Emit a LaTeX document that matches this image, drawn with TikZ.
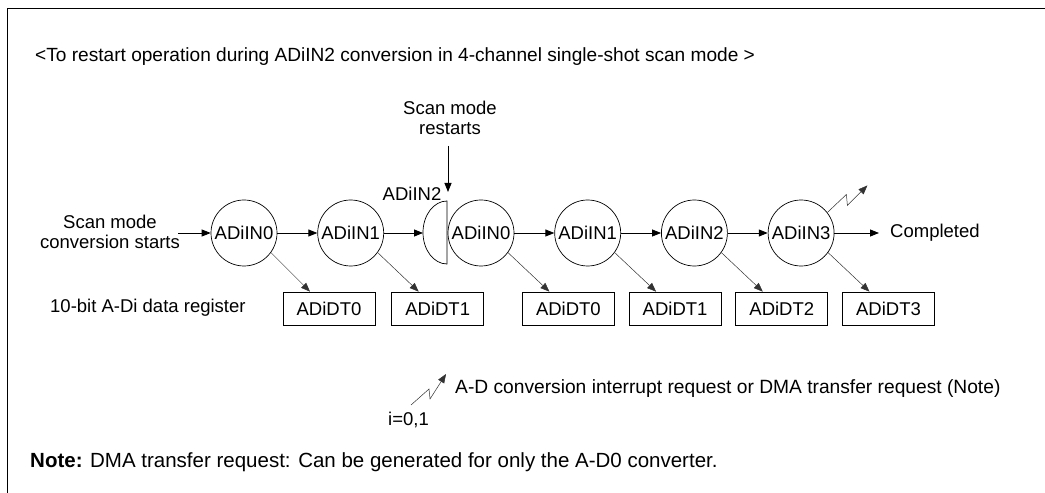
\documentclass[tikz,border=0pt]{standalone}
\usepackage{fontspec}
\setmainfont{Liberation Sans}
\usepackage{tikz}
\usetikzlibrary{positioning,arrows.meta}
\definecolor{gristexto}{RGB}{50,50,50}
\newcommand{\letra}{\fontsize{18.5}{20.5}\selectfont}

\begin{document}
\begin{tikzpicture}[x=1pt, y=1pt,
  canal/.style={draw, circle, minimum size=66pt, inner sep=0pt, line width=0.7pt,
               font=\letra},
  registro/.style={draw, minimum width=92pt, minimum height=33pt, inner sep=0pt,
               line width=0.7pt, font=\letra},
  texto/.style={inner sep=0pt, align=center, font=\letra},
  flecha/.style={-{Triangle[length=9pt,width=7pt]}, line width=0.8pt},
  flechafina/.style={-{Triangle[length=9pt,width=7pt]}, line width=0.5pt, color=gristexto}]
  \useasboundingbox (0,0) rectangle (1045,493);
  \draw[line width=1pt] (7,0) -- (7,484) -- (1045,484);
  \node[texto, anchor=west, font=\fontsize{19.1}{21}\selectfont] (titulo) at (35,436)
       {<To restart operation during ADiIN2 conversion in 4-channel single-shot scan mode >};
  % fila de canales
  \node[canal] (c1) at (244,260) {ADiIN0};
  \node[canal, right=40pt of c1] (c2) {ADiIN1};
  \node[canal] (c3) at (481,260) {ADiIN0};
  \node[canal, right=40pt of c3] (c4) {ADiIN1};
  \node[canal, right=40pt of c4] (c5) {ADiIN2};
  \node[canal, right=40pt of c5] (c6) {ADiIN3};
  % canal cortado
  \draw[line width=0.7pt] (447,292) arc[start angle=90, end angle=270, x radius=24, y radius=31.5]
       -- cycle;
  \coordinate (corte) at (423,260);
  \node[texto] (cortado) at (412,299) {ADiIN2};
  \node[texto] (reinicio) at (450,375) {Scan mode\\restarts};
  \coordinate (arriba) at (448,347);
  \coordinate (caida) at (448,301);
  % registros
  \node[registro] (r1) at (329,184.5) {ADiDT0};
  \node[registro, right=16pt of r1] (r2) {ADiDT1};
  \node[registro, right=38pt of r2] (r3) {ADiDT0};
  \node[registro, right=14pt of r3] (r4) {ADiDT1};
  \node[registro, right=14pt of r4] (r5) {ADiDT2};
  \node[registro, right=14pt of r5] (r6) {ADiDT3};
  \node[texto] (inicio) at (110,261) {Scan mode\\conversion starts};
  \coordinate (entrada) at (178,260);
  \node[texto, anchor=west, inner xsep=11pt] (fin) at (879,260) {Completed};
  \node[texto, anchor=west] (datos) at (50,185) {10-bit A-Di data register};
  % conexiones
  \draw[flecha] (entrada) -- (c1);
  \draw[flecha] (c1) -- (c2);
  \draw[flecha] (c2) -- (corte);
  \draw[flecha] (c3) -- (c4);
  \draw[flecha] (c4) -- (c5);
  \draw[flecha] (c5) -- (c6);
  \draw[flecha] (c6) -- (fin);
  \draw[flecha] (arriba) -- (caida);
  \draw[flechafina] (c1.-36) -- ([xshift=-19pt]r1.north);
  \draw[flechafina] (c2.-36) -- ([xshift=-19pt]r2.north);
  \draw[flechafina] (c3.-36) -- ([xshift=-19pt]r3.north);
  \draw[flechafina] (c4.-36) -- ([xshift=-19pt]r4.north);
  \draw[flechafina] (c5.-36) -- ([xshift=-19pt]r5.north);
  \draw[flechafina] (c6.-36) -- ([xshift=-19pt]r6.north);
  \draw[flechafina] (c6.38) -- ++(19,18) -- ++(1,-11) -- ++(20,20);
  % leyenda
  \coordinate (rayo) at (411,88);
  \draw[flechafina] (rayo) -- ++(18,16) -- ++(1,-10) -- ++(16,25);
  \node[texto, anchor=west, font=\fontsize{19.2}{21}\selectfont] (leyenda) at (455,104)
       {A-D conversion interrupt request or DMA transfer request (Note)};
  \node[texto, anchor=west] (indice) at (388,73) {i=0,1};
  \node[texto, anchor=west, font=\fontsize{20.5}{22}\selectfont] (nota) at (30,31)
       {\textbf{Note:} DMA transfer request: Can be generated for only the A-D0 converter.};
\end{tikzpicture}
\end{document}
